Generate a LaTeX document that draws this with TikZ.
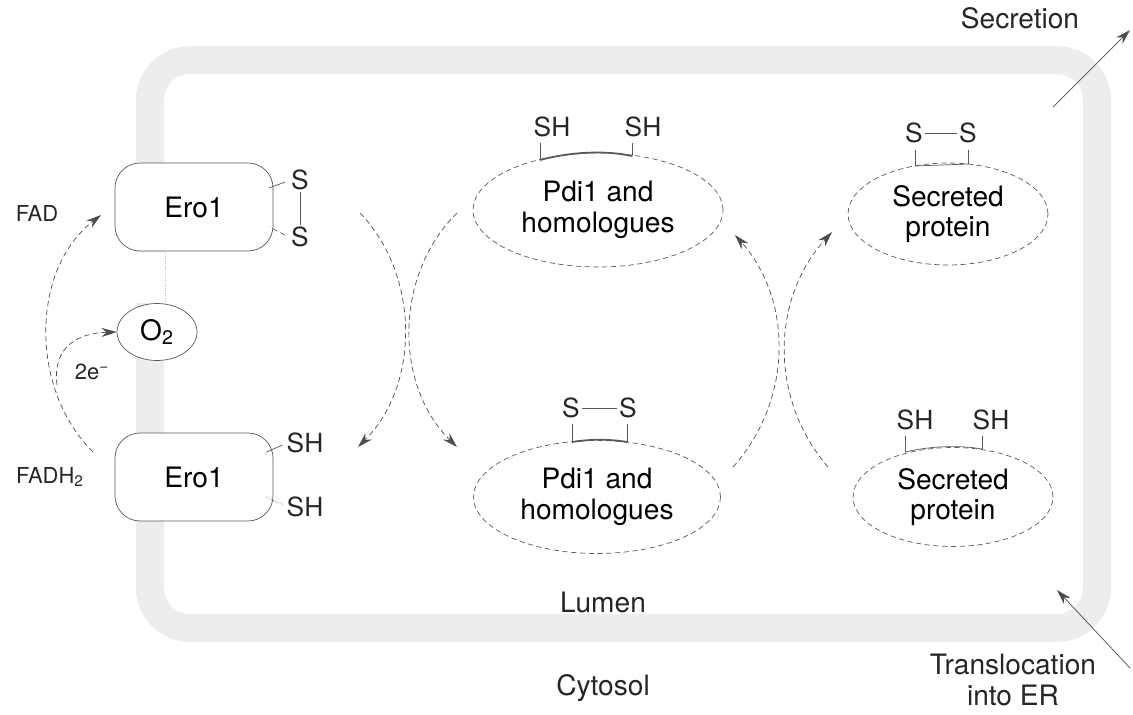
\documentclass[tikz,border=0pt]{standalone}
\usepackage{fontspec}
\setmainfont{TeX Gyre Heros}
\usetikzlibrary{arrows.meta,shapes.geometric}

\tikzset{
  membrane/.style={line width=0.56cm, gray!14, rounded corners=0.8cm},
  erobox/.style={draw=black!65, fill=white, rounded corners=0.5cm, minimum width=3.16cm, minimum height=1.76cm, font=\fontsize{16}{18}\selectfont},
  protein/.style={ellipse, draw=black!65, densely dashed, fill=white, align=center, inner sep=0pt, font=\fontsize{16}{17.5}\selectfont},
  lbl/.style={font=\fontsize{15}{18}\selectfont, text=black!85, inner sep=1pt},
  side/.style={font=\fontsize{12.5}{15}\selectfont, text=black!85},
  region/.style={font=\fontsize{16}{18}\selectfont, text=black!85, align=center},
  flow/.style={densely dashed, black!70, -{Stealth[length=0.3cm,width=0.18cm]}},
  push/.style={black!70, -{Stealth[length=0.3cm,width=0.18cm]}},
  bond/.style={black!65},
}

\begin{document}
\begin{tikzpicture}[x=0.02cm,y=-0.02cm]
\useasboundingbox (0,0) rectangle (1133,714);

% ER membrane
\draw[membrane] (150,60) rectangle (1097,628);
\fill[white] (133,252) rectangle (170,303);

% Ero1 in the membrane
\node[erobox] (eroox) at (194,207) {Ero1};
\node[erobox] (erored) at (194,477) {Ero1};
\node[protein, draw=black!65, solid, minimum width=1.6cm, minimum height=1.14cm, font=\fontsize{16}{18}\selectfont] (oxy) at (157,332) {O\textsubscript{2}};
\draw[gray!50, densely dotted] (oxy.north -| 165,0) -- (eroox.south -| 165,0);

\node[lbl] (s1) at (300,180) {S};
\node[lbl] (s2) at (300,237) {S};
\draw[bond] (s1) -- (s2);
\draw[bond] ([shift={(-4,2)}]s1.west) -- ++(-16,6);
\draw[bond, densely dashed] ([shift={(-4,-2)}]s2.west) -- ++(-16,-8);

\node[lbl] (sh1) at (305,443) {SH};
\node[lbl] (sh2) at (305,507) {SH};
\draw[bond] ([shift={(-2,2)}]sh1.west) -- ++(-16,7);
\draw[bond, densely dotted] ([shift={(-2,-2)}]sh2.west) -- ++(-16,-8);

\node[side] (fad) at (37,213) {FAD};
\node[side] (fadh) at (50,477) {FADH\textsubscript{2}};
\coordinate (fstart) at (93,452);
\coordinate (fend) at (101,215);
\draw[flow] (fstart) .. controls (30,390) and (30,270) .. (fend);
\coordinate (estart) at (57,385);
\draw[flow] (estart) .. controls (52,345) and (80,333) .. (oxy.west);
\node[side] (elec) at (92,372) {2e\textsuperscript{−}};

% Pdi1 and homologues
\node[protein, minimum width=5cm, minimum height=2.28cm] (pdired) at (598,210) {Pdi1 and\\homologues};
\node[protein, minimum width=4.94cm, minimum height=2.26cm] (pdiox) at (597,497) {Pdi1 and\\homologues};

\node[lbl] (pa) at (552,127) {SH};
\node[lbl] (pb) at (643,127) {SH};
\draw[bond] (540,143) -- (540,160);
\draw[bond] (632,143) -- (632,156);
\draw[bond, line width=1pt] (540,160) .. controls (570,152) and (605,150) .. (632,156);

\node[lbl] (pc) at (571,408) {S};
\node[lbl] (pd) at (628,408) {S};
\draw[bond] (pc) -- (pd);
\draw[bond] (572,424) -- (572,442);
\draw[bond] (627,424) -- (627,442);
\draw[bond, line width=1pt] (572,442) .. controls (590,439) and (610,439) .. (627,442);

% secreted protein
\node[protein, minimum width=4cm, minimum height=2.04cm] (secox) at (948,214) {Secreted\\protein};
\node[protein, minimum width=4cm, minimum height=1.98cm] (secred) at (953,497) {Secreted\\protein};

\node[lbl] (sa) at (914,133) {S};
\node[lbl] (sb) at (968,133) {S};
\draw[bond] (sa) -- (sb);
\draw[bond] (915,150) -- (915,166);
\draw[bond] (968,150) -- (968,164);
\draw[bond] (915,166) -- (968,164);

\node[lbl] (sc) at (915,420) {SH};
\node[lbl] (sd) at (991,420) {SH};
\draw[bond] (905,436) -- (905,452);
\draw[bond] (982,436) -- (982,449);
\draw[bond] (905,452) .. controls (930,446) and (960,445) .. (982,449);

% thiol exchange
\coordinate (a1) at (360,213);
\coordinate (a2) at (358,447);
\draw[flow] (a1) .. controls (420,275) and (420,385) .. (a2);
\coordinate (b1) at (457,213);
\coordinate (b2) at (457,447);
\draw[flow] (b1) .. controls (394,275) and (394,385) .. (b2);
\coordinate (c1) at (733,467);
\coordinate (c2) at (735,235);
\draw[flow] (c1) .. controls (793,400) and (793,300) .. (c2);
\coordinate (d1) at (828,467);
\coordinate (d2) at (832,232);
\draw[flow] (d1) .. controls (770,400) and (770,300) .. (d2);

% traffic
\node[region] (secr) at (1020,18) {Secretion};
\coordinate (out1) at (1053,107);
\coordinate (out2) at (1130,30);
\draw[push] (out1) -- (out2);
\node[region] (trans) at (1013,680) {Translocation\\into ER};
\coordinate (in1) at (1130,668);
\coordinate (in2) at (1057,590);
\draw[push] (in1) -- (in2);

\node[region] (lumen) at (603,602) {Lumen};
\node[region] (cyto) at (603,688) {Cytosol};
\end{tikzpicture}
\end{document}
